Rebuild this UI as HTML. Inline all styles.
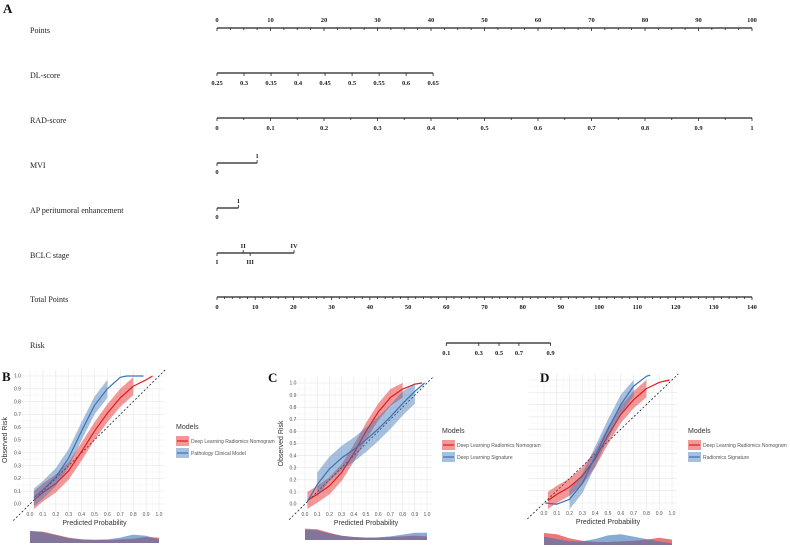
<!DOCTYPE html>
<html><head><meta charset="utf-8"><style>
html,body{margin:0;padding:0;background:#fff}
svg{display:block}
.nl{font-family:"Liberation Serif",serif;font-size:8px;fill:#222}
.nt{font-family:"Liberation Serif",serif;font-size:6.5px;fill:#222;text-anchor:middle;font-weight:bold}
.ct{font-family:"Liberation Sans",sans-serif;font-size:5px;fill:#555}
.ca{font-family:"Liberation Sans",sans-serif;font-size:7px;fill:#333}
.pl{font-family:"Liberation Serif",serif;font-size:13px;font-weight:bold;fill:#111}
</style></head><body>
<svg id="fig" width="790" height="547" viewBox="0 0 790 547" xmlns="http://www.w3.org/2000/svg">
<text class="pl" x="3" y="13">A</text>
</svg>
<script>
// ---------- Nomogram data ----------
const rowNames=["Points","DL-score","RAD-score","MVI","AP peritumoral enhancement","BCLC stage","Total Points","Risk"];
const pointsTicks=[0,10,20,30,40,50,60,70,80,90,100];
const dlLabels=["0.25","0.3","0.35","0.4","0.45","0.5","0.55","0.6","0.65"];
const dlPoints=[0,5.05,10.1,15.15,20.2,25.25,30.3,35.35,40.4];
const radLabels=["0","0.1","0.2","0.3","0.4","0.5","0.6","0.7","0.8","0.9","1"];
const mviLabels=["0","1"];const mviPoints=[0,7.5];
const apLabels=["0","1"];const apPoints=[0,4];
const bclcLabels=["I","II","III","IV"];const bclcPoints=[0,4.9,6.2,14.4];
const totalTicks=[0,10,20,30,40,50,60,70,80,90,100,110,120,130,140];
const riskLabels=["0.1","0.3","0.5","0.7","0.9"];const riskTotals=[60,68.5,73.8,79,87.3];

// ---------- Calibration data ----------
const bRedX=[0.03,0.1,0.2,0.3,0.4,0.5,0.6,0.7,0.8,0.9,0.95];
const bRedY=[0.03,0.09,0.16,0.26,0.41,0.57,0.71,0.83,0.92,0.97,1.0];
const bBlueX=[0.03,0.1,0.2,0.3,0.4,0.5,0.6,0.7,0.75,0.88];
const bBlueY=[0.05,0.11,0.21,0.36,0.57,0.77,0.9,0.99,1.0,1.0];
const cRedX=[0.02,0.1,0.2,0.3,0.4,0.5,0.6,0.7,0.8,0.9,0.96];
const cRedY=[0.03,0.08,0.15,0.26,0.42,0.6,0.76,0.88,0.95,0.99,1.0];
const cBlueX=[0.02,0.1,0.2,0.3,0.4,0.5,0.6,0.7,0.8,0.9,0.98];
const cBlueY=[0.02,0.16,0.29,0.38,0.45,0.53,0.62,0.72,0.83,0.93,1.0];
const dRedX=[0.03,0.1,0.2,0.3,0.4,0.5,0.6,0.7,0.8,0.9,0.98];
const dRedY=[0.02,0.07,0.13,0.22,0.36,0.55,0.72,0.84,0.93,0.98,1.0];
const dBlueX=[0.01,0.1,0.2,0.3,0.4,0.5,0.6,0.7,0.8,0.83];
const dBlueY=[0.0,-0.01,0.03,0.16,0.38,0.6,0.8,0.95,1.03,1.04];
const densX=[0,0.1,0.2,0.3,0.4,0.5,0.6,0.7,0.8,0.9,1.0];
const bDensRed=[1,0.95,0.7,0.45,0.3,0.25,0.25,0.3,0.35,0.5,0.45];
const bDensBlue=[1,0.9,0.65,0.4,0.3,0.28,0.3,0.45,0.7,0.6,0.3];
const cDensRed=[0.95,0.9,0.6,0.35,0.25,0.2,0.2,0.25,0.3,0.35,0.3];
const cDensBlue=[0.85,0.8,0.55,0.35,0.25,0.2,0.22,0.3,0.45,0.6,0.6];
const dDensRed=[1,0.9,0.55,0.35,0.25,0.25,0.3,0.35,0.45,0.6,0.45];
const dDensBlue=[0.7,0.5,0.3,0.3,0.5,0.8,0.9,0.7,0.5,0.3,0.15];

const NS="http://www.w3.org/2000/svg";
const svg=document.getElementById('fig');
function mk(tag,attrs,parent,text){const e=document.createElementNS(NS,tag);for(const k in attrs)e.setAttribute(k,attrs[k]);if(text!==undefined)e.textContent=text;(parent||svg).appendChild(e);return e;}

// nomogram scales
const X0=217,X1=752;
const px=p=>X0+(X1-X0)*p/100;
const tx=t=>X0+(X1-X0)*t/140;
const rowY=[28,73,118,163,208,253,297,343];
rowNames.forEach((n,i)=>{const t=mk('text',{class:'nl',x:30,y:rowY[i]+5},svg,n);

});
const S='#222';
function axisLine(x1,x2,y,name){const l=mk('line',{x1:x1,x2:x2,y1:y,y2:y,stroke:S,'stroke-width':1.2});

}
function tick(x,y,up,len){mk('line',{x1:x,x2:x,y1:y,y2:up?y-len:y+len,stroke:S,'stroke-width':0.8});}
function lbl(x,y,s){const t=mk('text',{class:'nt',x:x,y:y},svg,s);

}
// Points
axisLine(px(0),px(100),rowY[0],'points-axis');
for(let p=0;p<=100;p+=2.5)tick(px(p),rowY[0],false,p%10===0?3:2);
pointsTicks.forEach(p=>lbl(px(p),rowY[0]-6,String(p)));
// DL
axisLine(px(dlPoints[0]),px(dlPoints[dlPoints.length-1]),rowY[1],'dl-score-axis');
dlPoints.forEach((p,i)=>{tick(px(p),rowY[1],false,3);lbl(px(p),rowY[1]+12,dlLabels[i]);});
// RAD
axisLine(px(0),px(100),rowY[2],'rad-score-axis');
radLabels.forEach((s,i)=>{tick(px(i*10),rowY[2],false,3);lbl(px(i*10),rowY[2]+12,s);});
for(let i=0;i<10;i++)tick(px(i*10+5),rowY[2],false,2);
// MVI
axisLine(px(mviPoints[0]),px(mviPoints[1]),rowY[3],'mvi-axis');
tick(px(mviPoints[0]),rowY[3],false,3);lbl(px(mviPoints[0]),rowY[3]+11,mviLabels[0]);
tick(px(mviPoints[1]),rowY[3],true,3);lbl(px(mviPoints[1]),rowY[3]-5,mviLabels[1]);
// AP
axisLine(px(apPoints[0]),px(apPoints[1]),rowY[4],'ap-axis');
tick(px(apPoints[0]),rowY[4],false,3);lbl(px(apPoints[0]),rowY[4]+11,apLabels[0]);
tick(px(apPoints[1]),rowY[4],true,3);lbl(px(apPoints[1]),rowY[4]-5,apLabels[1]);
// BCLC
axisLine(px(bclcPoints[0]),px(bclcPoints[3]),rowY[5],'bclc-axis');
bclcPoints.forEach((p,i)=>{const up=(i%2===1);tick(px(p),rowY[5],up,3);lbl(px(p),up?rowY[5]-5:rowY[5]+11,bclcLabels[i]);});
// Total
axisLine(tx(0),tx(140),rowY[6],'total-points-axis');
for(let t=0;t<=140;t+=2)tick(tx(t),rowY[6],false,t%10===0?3:2);
totalTicks.forEach(t=>lbl(tx(t),rowY[6]+12,String(t)));
// Risk
axisLine(tx(riskTotals[0]),tx(riskTotals[riskTotals.length-1]),rowY[7],'risk-axis');
riskTotals.forEach((t,i)=>{tick(tx(t),rowY[7],false,3);lbl(tx(t),rowY[7]+12,riskLabels[i]);});

// ---------- Calibration panels ----------
const RED='#e41a1c',BLUE='#3a73b5';
function panel(cfg){
  const g=mk('g',{});
  
  
  const {x0,x1,y0,y1}=cfg; // x0: pred 0, x1: pred 1, y0: obs 0 (bottom), y1: obs 1
  const sx=v=>x0+(x1-x0)*v, sy=v=>y0+(y1-y0)*v;
  const gl=sx(-0.12),gr=sx(1.04),gt=sy(1.05),gb=sy(-0.06);
  for(let v=-0.05;v<=1.05;v+=0.05){const maj=Math.abs(Math.round(v*10)-v*10)<1e-6;
    mk('line',{x1:sx(v),x2:sx(v),y1:gt,y2:gb,stroke:maj?'#e6e6e6':'#f2f2f2','stroke-width':maj?0.6:0.4},g);
    mk('line',{x1:gl,x2:gr,y1:sy(v),y2:sy(v),stroke:maj?'#e6e6e6':'#f2f2f2','stroke-width':maj?0.6:0.4},g);}
  const diag=mk('line',{x1:sx(-0.13),y1:sy(-0.13),x2:sx(1.05),y2:sy(1.05),stroke:'#222','stroke-width':0.8,'stroke-dasharray':'2,2'},g);
  
  
  function series(X,Y,col,bandFrom,bandTo,hw,name){
    const bx=[],up=[],lo=[];
    X.forEach((x,i)=>{if(x>=bandFrom-1e-9&&x<=bandTo+1e-9){bx.push(x);up.push(Y[i]+hw);lo.push(Y[i]-hw);}});
    // include band endpoint by linear interp
    let d='';bx.forEach((x,i)=>{d+=(i?'L':'M')+sx(x)+','+sy(Math.min(up[i],1.0))});
    for(let i=bx.length-1;i>=0;i--)d+='L'+sx(bx[i])+','+sy(lo[i]);
    const b=mk('path',{d:d+'Z',fill:col,'fill-opacity':0.45},g);
    
    
    let ld='';X.forEach((x,i)=>{ld+=(i?'L':'M')+sx(x)+','+sy(Y[i])});
    const l=mk('path',{d:ld,fill:'none',stroke:col,'stroke-width':1.2,'stroke-linejoin':'round'},g);
    
    
  }
  series(cfg.rx,cfg.ry,RED,cfg.rb[0],cfg.rb[1],cfg.rb[2],'dlrn');
  series(cfg.bx,cfg.by,BLUE,cfg.bb[0],cfg.bb[1],cfg.bb[2],'comparison-model');
  for(let i=0;i<=10;i++){
    mk('text',{class:'ct',x:sx(i/10),y:y0+12,'text-anchor':'middle'},g,(i/10).toFixed(1));
    if(cfg.ylab)mk('text',{class:'ct',x:sx(-0.07),y:sy(i/10)+1.7,'text-anchor':'end'},g,(i/10).toFixed(1));
  }
  const xt=mk('text',{class:'ca',x:(x0+x1)/2,y:y0+21,'text-anchor':'middle'},g,'Predicted Probability');
  
  
  if(cfg.ylab){const yt=mk('text',{class:'ca',x:0,y:0,'text-anchor':'middle',transform:`translate(${sx(-0.18)},${(y0+y1)/2}) rotate(-90)`},g,'Observed Risk');
    
    }
  const pl=mk('text',{class:'pl',x:cfg.lx,y:cfg.ly},g,cfg.id);
  
  
  // density strip
  const dt=cfg.dy,dh=12;
  [[cfg.dr,RED],[cfg.db,BLUE]].forEach(([arr,col])=>{
    let d='M'+sx(0)+','+(dt+dh);densX.forEach((x,i)=>{d+='L'+sx(x)+','+(dt+dh-arr[i]*dh)});d+='L'+sx(1)+','+(dt+dh)+'Z';
    const p=mk('path',{d:d,fill:col,'fill-opacity':0.6},g);
    
    
  });
  // legend
  const L=mk('g',{},g);
  
  
  mk('text',{class:'ca',x:cfg.gx,y:cfg.gy},L,'Models');
  [[RED,'Deep Learning Radiomics Nomogram'],[BLUE,cfg.name]].forEach(([c,t],i)=>{
    const yy=cfg.gy+7+i*12;
    mk('rect',{x:cfg.gx,y:yy,width:13,height:10,fill:c,'fill-opacity':0.45},L);
    mk('line',{x1:cfg.gx+1,x2:cfg.gx+12,y1:yy+5,y2:yy+5,stroke:c,'stroke-width':1.2},L);
    const e=mk('text',{class:'ct',x:cfg.gx+15,y:yy+7,fill:'#222'},L,t);
    
    
  });
}
panel({id:'B',x0:30,x1:159,y0:504,y1:376,ylab:true,lx:2,ly:381,dy:531,
  rx:bRedX,ry:bRedY,rb:[0.03,0.84,0.07],bx:bBlueX,by:bBlueY,bb:[0.03,0.62,0.07],
  dr:bDensRed,db:bDensBlue,gx:176,gy:429,name:'Pathology Clinical Model'});
panel({id:'C',x0:305,x1:427,y0:504,y1:383,ylab:true,lx:268,ly:382,dy:528,
  rx:cRedX,ry:cRedY,rb:[0.02,0.83,0.07],bx:cBlueX,by:cBlueY,bb:[0.05,0.9,0.1],
  dr:cDensRed,db:cDensBlue,gx:442,gy:433,name:'Deep Learning Signature'});
panel({id:'D',x0:544,x1:672,y0:503,y1:380,ylab:false,lx:540,ly:382,dy:533,
  rx:dRedX,ry:dRedY,rb:[0.03,0.84,0.07],bx:dBlueX,by:dBlueY,bb:[0.2,0.73,0.08],
  dr:dDensRed,db:dDensBlue,gx:688,gy:433,name:'Radiomics Signature'});
</script>
</body></html>
